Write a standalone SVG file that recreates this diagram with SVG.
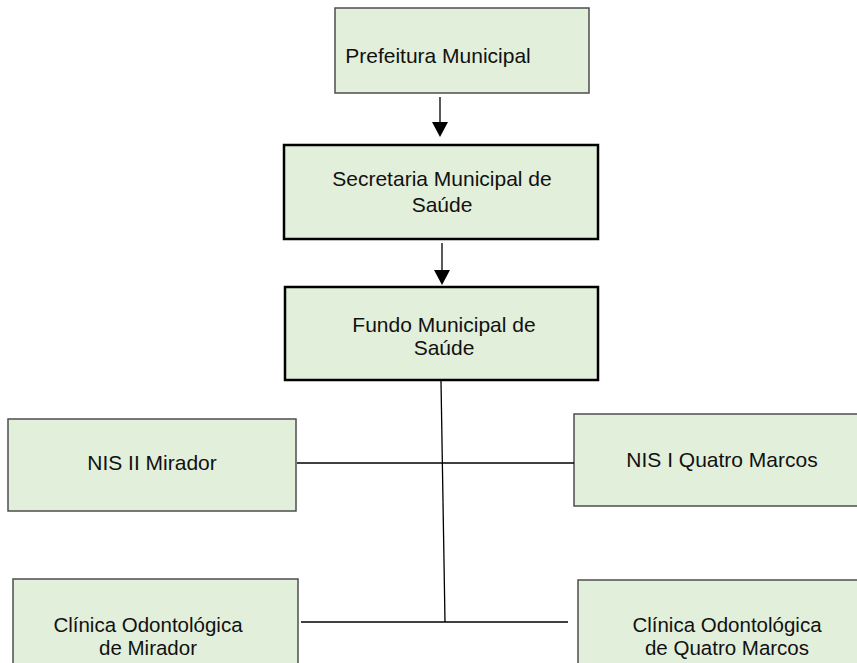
<svg xmlns="http://www.w3.org/2000/svg" width="857" height="663" viewBox="0 0 857 663">
<style>
.box{fill:#e2efda;stroke:#4d4d4d;stroke-width:1.5}
.bold{fill:#e2efda;stroke:#000;stroke-width:2.5}
.t{font-family:"Liberation Sans",Arial,sans-serif;font-size:21px;fill:#111;text-anchor:middle}
.s{font-size:20.5px}
.c{stroke:#000;stroke-width:1.3;fill:none}
</style>
<rect width="857" height="663" fill="#fff"/>
<g id="prefeitura"><rect class="box" x="335" y="8" width="254" height="85"/><text class="t" x="438" y="63">Prefeitura Municipal</text></g>
<g id="secretaria"><rect class="bold" x="284" y="145" width="314" height="94"/><text class="t" x="442" y="186">Secretaria Municipal de</text><text class="t" x="442" y="212">Saúde</text></g>
<g id="fundo"><rect class="bold" x="285" y="287" width="313" height="93"/><text class="t" x="444" y="332">Fundo Municipal de</text><text class="t" x="444" y="355">Saúde</text></g>
<g id="nis2"><rect class="box" x="8" y="419" width="288" height="92"/><text class="t" x="152" y="470">NIS II Mirador</text></g>
<g id="nis1"><rect class="box" x="574" y="414" width="300" height="92"/><text class="t" x="722" y="467">NIS I Quatro Marcos</text></g>
<g id="clinica-mirador"><rect class="box" x="13" y="579" width="285" height="100"/><text class="t s" x="148" y="632">Clínica Odontológica</text><text class="t s" x="148" y="655">de Mirador</text></g>
<g id="clinica-qm"><rect class="box" x="578" y="580" width="300" height="100"/><text class="t s" x="727" y="632">Clínica Odontológica</text><text class="t s" x="727" y="655">de Quatro Marcos</text></g>
<g id="connectors">
<line class="c" x1="440" y1="97" x2="440" y2="123"/>
<polygon points="432,122 448,122 440,137" fill="#000"/>
<line class="c" x1="442" y1="243" x2="442" y2="271"/>
<polygon points="434,270 450,270 442,285" fill="#000"/>
<line class="c" x1="441" y1="381" x2="445" y2="622"/>
<line class="c" x1="297" y1="463" x2="574" y2="463"/>
<line class="c" x1="301" y1="622" x2="568" y2="622"/>
</g>
</svg>
